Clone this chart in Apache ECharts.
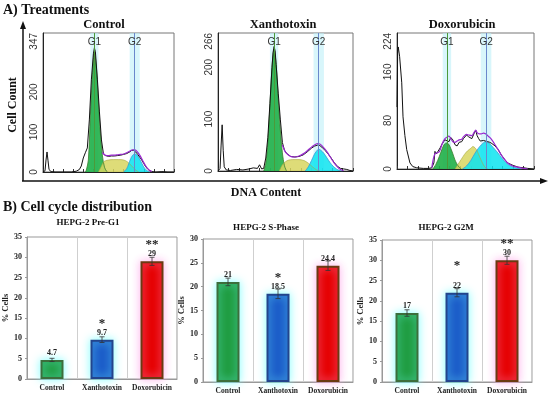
<!DOCTYPE html>
<html><head><meta charset="utf-8">
<script src="https://cdn.jsdelivr.net/npm/echarts@6/dist/echarts.min.js"></script>
<style>html,body{margin:0;padding:0;background:#fff}#c{width:550px;height:398px}</style>
</head><body><div id="c"></div>
<script>
// ---------- Panel A: DNA histograms ----------
const histTitles = ['Control', 'Xanthotoxin', 'Doxorubicin'];
const histMax = [347, 266, 224];
const histTickLabels = [[0, 100, 200, 347], [0, 100, 200, 266], [0, 80, 160, 224]];
const g1Pos = [51, 54, 47.4];
const g2Pos = [91, 97, 84.5];

// Control
const ctrlX =     [0, 2, 3, 4, 5, 6, 8, 12, 20, 28, 33, 36, 38, 40, 42, 43, 44, 46, 48, 50, 51, 52, 54, 56, 58, 60, 62, 65, 68, 71, 74, 77, 80, 83, 86, 88, 89, 90, 92, 94, 96, 98, 100, 102, 104, 106, 108, 112, 118, 124, 130];
const ctrlCount = [0, 3, 30, 50, 28, 6, 1, 0, 0, 0, 2, 6, 15, 35, 48, 45, 60, 130, 230, 295, 310, 300, 230, 150, 80, 45, 41, 39, 40, 40, 41, 42, 44, 46, 50, 54, 55, 54, 50, 44, 37, 30, 21, 13, 7, 3, 1, 0, 1, 0, 0];
const ctrlG1X = [42, 43, 45, 47, 49, 51, 53, 55, 57, 59, 61, 63, 64];
const ctrlG1 =  [0, 5, 30, 140, 240, 300, 260, 175, 95, 40, 12, 2, 0];
const ctrlSX = [55, 58, 60, 62, 65, 70, 75, 80, 84, 88, 92, 95];
const ctrlS =  [0, 15, 25, 28, 30, 31, 31, 30, 25, 15, 5, 0];
const ctrlG2X = [80, 83, 85, 87, 89, 91, 93, 95, 97, 99, 101, 103, 106];
const ctrlG2 =  [0, 8, 20, 33, 42, 45, 43, 36, 27, 17, 9, 4, 0];
const ctrlFitX = [59, 62, 65, 68, 71, 74, 77, 80, 83, 86, 89, 91, 93, 96, 99, 102, 105, 108];
const ctrlFit =  [48, 42, 41, 42, 42, 43, 44, 45, 48, 52, 55, 55, 52, 42, 28, 15, 6, 1];

// Xanthotoxin
const xanX =     [0, 2, 3, 4, 5, 6, 8, 12, 18, 24, 30, 34, 38, 40, 42, 44, 46, 48, 50, 52, 53, 54, 55, 56, 58, 60, 62, 64, 66, 70, 74, 78, 82, 86, 90, 93, 96, 98, 100, 103, 106, 109, 112, 115, 118, 121, 124, 127, 130];
const xanCount = [0, 5, 50, 89, 40, 8, 2, 1, 3, 2, 4, 6, 5, 12, 4, 5, 25, 65, 130, 200, 228, 240, 232, 205, 150, 100, 55, 40, 34, 28, 27, 28, 31, 37, 44, 48, 50, 49, 46, 40, 33, 25, 16, 9, 5, 4, 3, 1, 0];
const xanG1X = [44, 46, 48, 50, 52, 54, 56, 58, 60, 62, 64, 66];
const xanG1 =  [0, 15, 55, 125, 200, 235, 205, 140, 80, 35, 10, 0];
const xanSX = [59, 62, 65, 68, 72, 78, 83, 87, 91, 95, 98];
const xanS =  [0, 12, 18, 21, 22, 22, 20, 15, 8, 2, 0];
const xanG2X = [84, 87, 90, 93, 96, 97, 99, 102, 105, 108, 111, 114, 117, 120];
const xanG2 =  [0, 8, 20, 33, 41, 42, 40, 34, 25, 16, 9, 4, 1, 0];
const xanFitX = [62, 64, 66, 70, 74, 78, 82, 86, 90, 93, 96, 98, 100, 103, 106, 109, 112, 115, 118, 121];
const xanFit =  [50, 40, 34, 28, 27, 29, 33, 39, 46, 50, 53, 52, 49, 42, 34, 24, 15, 8, 3, 1];

// Doxorubicin
const doxX =     [0, 0.6, 1.2, 2.5, 4.5, 5.7, 7.5, 9.2, 12.3, 15, 18.7, 25, 30, 33, 35, 36, 37.5, 39, 41, 43, 45.5, 47, 49.3, 51, 53, 55, 57, 59, 61.4, 63, 64.5, 66, 68, 71, 73, 74.7, 76, 77.5, 79, 80.4, 82, 84, 86, 88, 90, 93, 96, 99, 102, 105, 110, 115, 120, 124, 130];
const doxCount = [102, 190, 201, 185, 142, 86, 55, 32, 10, 4, 2, 1, 1, 2, 10, 29, 25, 23, 35, 42, 48, 46, 45, 52, 48, 40, 38, 44, 45, 50, 47, 56, 53, 50, 58, 64, 55, 50, 46, 43, 47, 46, 45, 44, 42, 38, 32, 23, 16, 10, 6, 3, 2, 1, 0];
const doxG1X = [34, 37, 40, 43, 45, 47, 49, 51, 53, 55, 57, 59, 61];
const doxG1 =  [0, 8, 20, 34, 41, 43, 41, 34, 25, 15, 8, 3, 0];
const doxSX = [55, 58, 61, 64, 67, 70, 72, 74, 76, 78, 80, 82, 84, 86];
const doxS =  [0, 8, 16, 24, 30, 34, 37, 35, 30, 22, 14, 7, 2, 0];
const doxG2X = [62, 66, 70, 74, 78, 82, 84.5, 87, 90, 93, 96, 99, 102, 105, 109, 113, 118];
const doxG2 =  [0, 5, 14, 26, 36, 43, 45, 43, 38, 32, 26, 19, 13, 8, 4, 2, 0];
const doxFitX = [33, 36, 40, 43, 45.5, 47, 49.3, 51, 53, 55, 57, 59, 61.4, 63, 66, 68, 71, 73, 74.7, 76, 78, 80, 82, 84, 86, 88, 90, 93, 96, 99, 102, 105, 110, 115, 120, 124];
const doxFit =  [2, 25, 28, 42, 50, 52, 54, 50, 45, 44, 46, 48, 49, 53, 57, 56, 55, 60, 64, 60, 58, 58, 59, 58, 55, 52, 48, 40, 32, 23, 16, 10, 5, 3, 1, 0];

// ---------- Panel B: cell cycle bars ----------
const barCats = ['Control', 'Xanthotoxin', 'Doxorubicin'];
const barTitles = ['HEPG-2 Pre-G1', 'HEPG-2 S-Phase', 'HEPG-2 G2M'];
const barMax = [35, 30, 35];
const preG1Vals = [4.7, 9.7, 29];
const preG1Err = [0.4, 0.7, 1.0];
const preG1Sig = ['', '*', '**'];
const sPhaseVals = [21, 18.5, 24.4];
const sPhaseErr = [0.8, 1.0, 1.0];
const sPhaseSig = ['', '*', ''];
const g2mVals = [17, 22, 30];
const g2mErr = [0.8, 1.0, 1.0];
const g2mSig = ['', '*', '**'];

// ---------- build ----------
const pairs = (xs, ys) => xs.map((x, i) => [x, ys[i]]);
const hist = [
  {count: pairs(ctrlX, ctrlCount), g1: pairs(ctrlG1X, ctrlG1), s: pairs(ctrlSX, ctrlS), g2: pairs(ctrlG2X, ctrlG2), fit: pairs(ctrlFitX, ctrlFit)},
  {count: pairs(xanX, xanCount), g1: pairs(xanG1X, xanG1), s: pairs(xanSX, xanS), g2: pairs(xanG2X, xanG2), fit: pairs(xanFitX, xanFit)},
  {count: pairs(doxX, doxCount), g1: pairs(doxG1X, doxG1), s: pairs(doxSX, doxS), g2: pairs(doxG2X, doxG2), fit: pairs(doxFitX, doxFit)}
];
const bars = [
  {vals: preG1Vals, err: preG1Err, sig: preG1Sig},
  {vals: sPhaseVals, err: sPhaseErr, sig: sPhaseSig},
  {vals: g2mVals, err: g2mErr, sig: g2mSig}
];

const SERIF = "'Liberation Serif', 'Times New Roman', serif";
const SANS = "'Liberation Sans', Arial, sans-serif";

const topGrids = [
  {left: 43, top: 33, width: 131, height: 139},
  {left: 218, top: 33, width: 135, height: 138},
  {left: 397, top: 33, width: 137, height: 136}
];
const botGrids = [
  {left: 27, top: 237, width: 150, height: 142},
  {left: 203, top: 239, width: 150, height: 143},
  {left: 382, top: 240, width: 150, height: 142}
];
const grid = topGrids.map(g => Object.assign({show: true, borderColor: '#777', borderWidth: 1, containLabel: false}, g))
  .concat(botGrids.map(g => Object.assign({show: true, borderColor: '#999', borderWidth: 1, containLabel: false}, g)));

const xAxis = [], yAxis = [], series = [];
for (let i = 0; i < 3; i++) {
  xAxis.push({gridIndex: i, type: 'value', min: 0, max: 130, interval: 10,
    axisLine: {lineStyle: {color: '#222', width: 1}},
    axisTick: {inside: true, length: 3, lineStyle: {color: '#333'}},
    axisLabel: {show: false}, splitLine: {show: false}});
  yAxis.push({gridIndex: i, type: 'value', min: 0, max: histMax[i],
    axisLine: {show: true, lineStyle: {color: '#222', width: 1}},
    axisTick: {show: false}, splitLine: {show: false},
    axisLabel: {customValues: histTickLabels[i], rotate: 90, fontSize: 10, color: '#333', fontFamily: SANS, margin: 4, alignMaxLabel: 'right'}});
  const h = hist[i];
  const common = {xAxisIndex: i, yAxisIndex: i, showSymbol: false, silent: true, animation: false};
  series.push(Object.assign({type: 'line', data: [], z: 1,
    markArea: {silent: true, itemStyle: {color: 'rgba(190,240,248,0.6)'},
      data: [[{xAxis: g1Pos[i] - 4}, {xAxis: g1Pos[i] + 4}], [{xAxis: g2Pos[i] - 5}, {xAxis: g2Pos[i] + 5}]]}
  }, common));
  series.push(Object.assign({type: 'line', data: h.g1, z: 2, smooth: 0.3,
    lineStyle: {color: '#3b7d2e', width: 0.8}, areaStyle: {color: '#20b048', opacity: 0.9}}, common));
  series.push(Object.assign({type: 'line', data: h.s, z: 2, smooth: 0.3,
    lineStyle: {color: '#a8a840', width: 0.6}, areaStyle: {color: '#d8d660', opacity: 0.85}}, common));
  series.push(Object.assign({type: 'line', data: h.g2, z: 2, smooth: 0.3,
    lineStyle: {color: '#3a9ad8', width: 0.8}, areaStyle: {color: '#0ce4f0', opacity: 0.85}}, common));
  series.push(Object.assign({type: 'line', data: h.count, z: 3,
    lineStyle: {color: '#111', width: 1}}, common));
  series.push(Object.assign({type: 'line', data: h.fit, z: 4, smooth: 0.3,
    lineStyle: {color: '#9a2ad0', width: 1.2},
    markLine: {silent: true, symbol: 'none', label: {show: false},
      data: [{xAxis: g1Pos[i], lineStyle: {color: '#4c9a3a', width: 1, type: 'solid'}},
             {xAxis: g2Pos[i], lineStyle: {color: '#6a88cc', width: 1, type: 'solid'}}]},
    markPoint: {silent: true, symbol: 'circle', symbolSize: 0,
      label: {show: true, position: 'inside', fontSize: 10, color: '#333', fontFamily: SANS},
      data: [{coord: [g1Pos[i], histMax[i] * 0.93], value: 'G1', label: {formatter: 'G1'}},
             {coord: [g2Pos[i], histMax[i] * 0.93], value: 'G2', label: {formatter: 'G2'}}]}
  }, common));
}

const barColors = ['#1f9c40', '#1b5cc9', '#e60000'];
const barBorders = ['#3c6e3c', '#23448c', '#6b3a12'];
const glows = ['rgba(120,255,255,0.9)', 'rgba(120,255,255,0.9)', 'rgba(255,170,235,0.9)'];
const nameGaps = [15, 13, 14];
for (let i = 0; i < 3; i++) {
  const gi = 3 + i;
  xAxis.push({gridIndex: gi, type: 'category', data: barCats,
    axisLine: {lineStyle: {color: '#999'}}, axisTick: {show: false},
    axisLabel: {fontFamily: SERIF, fontWeight: 'bold', fontSize: 7.5, color: '#222', margin: 5, interval: 0},
    splitLine: {show: true, interval: 0, lineStyle: {color: '#cfcfcf'}}});
  yAxis.push({gridIndex: gi, type: 'value', min: 0, max: barMax[i], interval: 5,
    name: '% Cells', nameLocation: 'middle', nameGap: nameGaps[i], nameRotate: 90,
    nameTextStyle: {fontFamily: SERIF, fontWeight: 'bold', fontSize: 8.5, color: '#222'},
    axisLine: {show: true, lineStyle: {color: '#999'}},
    axisTick: {show: true, length: 2, lineStyle: {color: '#999'}},
    axisLabel: {fontFamily: SERIF, fontWeight: 'bold', fontSize: 8, color: '#222', margin: 5},
    splitLine: {show: false}});
  const b = bars[i];
  series.push({type: 'bar', xAxisIndex: gi, yAxisIndex: gi, barWidth: 23, animation: false, z: 2,
    data: b.vals.map((v, j) => ({value: v,
      itemStyle: {color: barColors[j], borderColor: barBorders[j], borderWidth: 2, shadowColor: glows[j], shadowBlur: 8},
      label: {rich: {s: {fontSize: 13, fontWeight: 'bold', fontFamily: SERIF, color: '#222', lineHeight: (i === 2 && j === 1) ? 22 : 11, verticalAlign: 'top'},
                     v: {fontSize: 8, fontWeight: 'bold', fontFamily: SERIF, color: '#222', lineHeight: 10}}}})),
    label: {show: true, position: 'top', distance: 2,
      formatter: p => (b.sig[p.dataIndex] ? '{s|' + b.sig[p.dataIndex] + '}\n' : '') + '{v|' + b.vals[p.dataIndex] + '}'}
  });
  series.push({type: 'custom', xAxisIndex: gi, yAxisIndex: gi, z: 3, animation: false, silent: true,
    data: b.vals.map((v, j) => [j, v, b.err[j]]),
    renderItem: (params, api) => {
      const x = api.value(0), v = api.value(1), e = api.value(2);
      const hi = api.coord([x, v + e]), lo = api.coord([x, v - e]);
      const st = {stroke: '#333', lineWidth: 0.8};
      return {type: 'group', children: [
        {type: 'line', shape: {x1: hi[0], y1: hi[1], x2: lo[0], y2: lo[1]}, style: st},
        {type: 'line', shape: {x1: hi[0] - 2.5, y1: hi[1], x2: hi[0] + 2.5, y2: hi[1]}, style: st},
        {type: 'line', shape: {x1: lo[0] - 2.5, y1: lo[1], x2: lo[0] + 2.5, y2: lo[1]}, style: st}
      ]};
    }});
}

const txt = (x, y, text, size, extra) => Object.assign({type: 'text', x: x, y: y, silent: true,
  style: {text: text, fontFamily: SERIF, fontWeight: 'bold', fontSize: size, fill: '#111', textAlign: 'center', textVerticalAlign: 'middle'}}, extra || {});
const graphic = [
  txt(3, 10, 'A) Treatments', 14, {style: {text: 'A) Treatments', fontFamily: SERIF, fontWeight: 'bold', fontSize: 14, fill: '#111', textAlign: 'left', textVerticalAlign: 'middle'}}),
  txt(3, 207, 'B) Cell cycle distribution', 14, {style: {text: 'B) Cell cycle distribution', fontFamily: SERIF, fontWeight: 'bold', fontSize: 14, fill: '#111', textAlign: 'left', textVerticalAlign: 'middle'}}),
  txt(104, 25, histTitles[0], 12.5),
  txt(283, 25, histTitles[1], 12.5),
  txt(462, 25, histTitles[2], 12.5),
  txt(13, 105, 'Cell Count', 12, {rotation: Math.PI / 2}),
  txt(266, 193, 'DNA Content', 12),
  txt(88, 223, barTitles[0], 9),
  txt(266, 228, barTitles[1], 9),
  txt(446, 228, barTitles[2], 9),
  {type: 'line', silent: true, shape: {x1: 23, y1: 181, x2: 23, y2: 27}, style: {stroke: '#111', lineWidth: 1.5}},
  {type: 'polygon', silent: true, shape: {points: [[23, 21], [20, 29], [26, 29]]}, style: {fill: '#111'}},
  {type: 'line', silent: true, shape: {x1: 22, y1: 181, x2: 542, y2: 181}, style: {stroke: '#111', lineWidth: 1.5}},
  {type: 'polygon', silent: true, shape: {points: [[548, 181], [540, 178], [540, 184]]}, style: {fill: '#111'}}
];

const chart = echarts.init(document.getElementById('c'), null, {renderer: 'canvas'});
chart.setOption({animation: false, backgroundColor: '#fff', grid: grid, xAxis: xAxis, yAxis: yAxis, series: series, graphic: graphic});
</script></body></html>
